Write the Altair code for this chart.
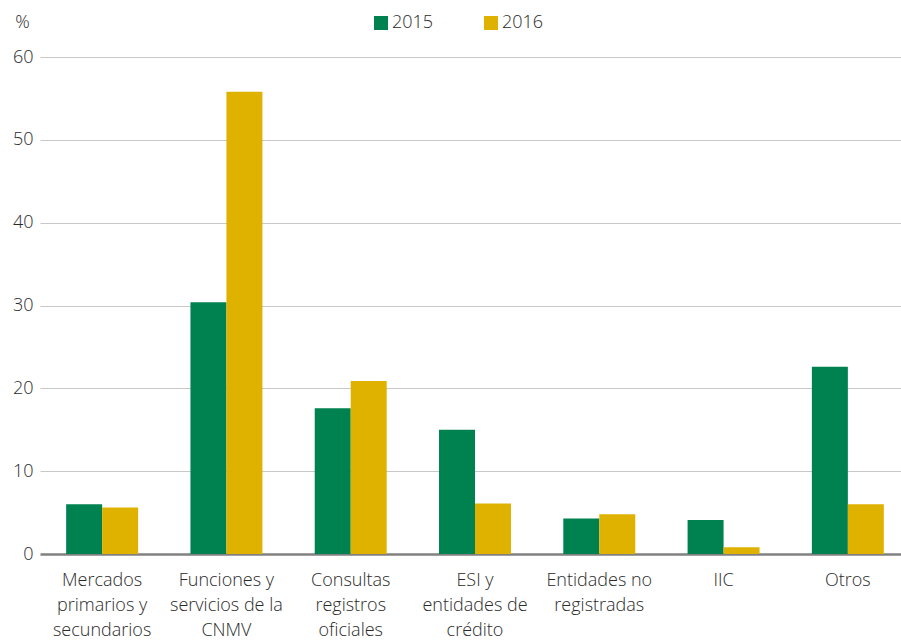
import altair as alt
import pandas as pd

categories = [
    "Mercados|primarios y|secundarios",
    "Funciones y|servicios de la|CNMV",
    "Consultas|registros|oficiales",
    "ESI y|entidades de|crédito",
    "Entidades no|registradas",
    "IIC",
    "Otros",
]
values_2015 = [6.0, 30.4, 17.6, 15.0, 4.3, 4.1, 22.6]
values_2016 = [5.6, 55.8, 20.9, 6.1, 4.8, 0.8, 6.0]
years = ["2015", "2016"]
colors = ["#008150", "#DFB200"]

rows = []
for c, a, b in zip(categories, values_2015, values_2016):
    rows.append({"cat": c, "year": years[0], "value": a})
    rows.append({"cat": c, "year": years[1], "value": b})
df = pd.DataFrame(rows)

FONT = "Open Sans"
TXT = "#2a2a2a"

chart = alt.Chart(df).mark_bar().encode(
    x=alt.X(
        "cat:N",
        sort=categories,
        scale=alt.Scale(range=[0, 870], paddingInner=0, paddingOuter=0),
        axis=alt.Axis(
            title=None,
            labelAngle=0,
            labelExpr="split(datum.label, '|')",
            labelFontSize=18,
            labelLineHeight=25,
            labelPadding=17,
            labelColor=TXT,
            labelFont=FONT,
            labelFontWeight=300,
            domain=False,
            ticks=False,
            labelBaseline="top",
        ),
    ),
    xOffset=alt.XOffset("year:N", scale=alt.Scale(paddingInner=0, paddingOuter=0.727)),
    y=alt.Y(
        "value:Q",
        scale=alt.Scale(domain=[0, 60], nice=False),
        axis=alt.Axis(
            values=[0, 10, 20, 30, 40, 50, 60],
            title="%",
            titleAngle=0,
            titleX=-18,
            titleY=-35,
            titleAlign="center",
            titleBaseline="middle",
            titleFontSize=18,
            titleFontWeight=300,
            titleFont=FONT,
            titleColor=TXT,
            labelFontSize=18,
            labelFont=FONT,
            labelFontWeight=300,
            labelColor=TXT,
            labelPadding=7,
            domain=False,
            ticks=False,
            gridColor={"condition": {"test": "datum.value === 0", "value": "#808080"}, "value": "#C8C8C8"},
            gridWidth={"condition": {"test": "datum.value === 0", "value": 2.5}, "value": 1.2},
        ),
    ),
    color=alt.Color(
        "year:N",
        scale=alt.Scale(domain=years, range=colors),
        legend=alt.Legend(
            title=None,
            orient="none",
            legendX=332,
            legendY=-43,
            direction="horizontal",
            symbolType="square",
            symbolSize=196,
            symbolStrokeWidth=0,
            symbolOpacity=1,
            labelFontSize=18,
            labelFont=FONT,
            labelFontWeight=300,
            labelColor=TXT,
            labelOffset=2,
            columnPadding=48,
        ),
    ),
).properties(
    width=861,
    height=497,
    autosize="none",
    padding={"left": 40, "top": 57, "right": 0, "bottom": 86},
).configure_view(stroke=None)

chart.save("out.html", embed_options={"renderer": "svg", "actions": False})
